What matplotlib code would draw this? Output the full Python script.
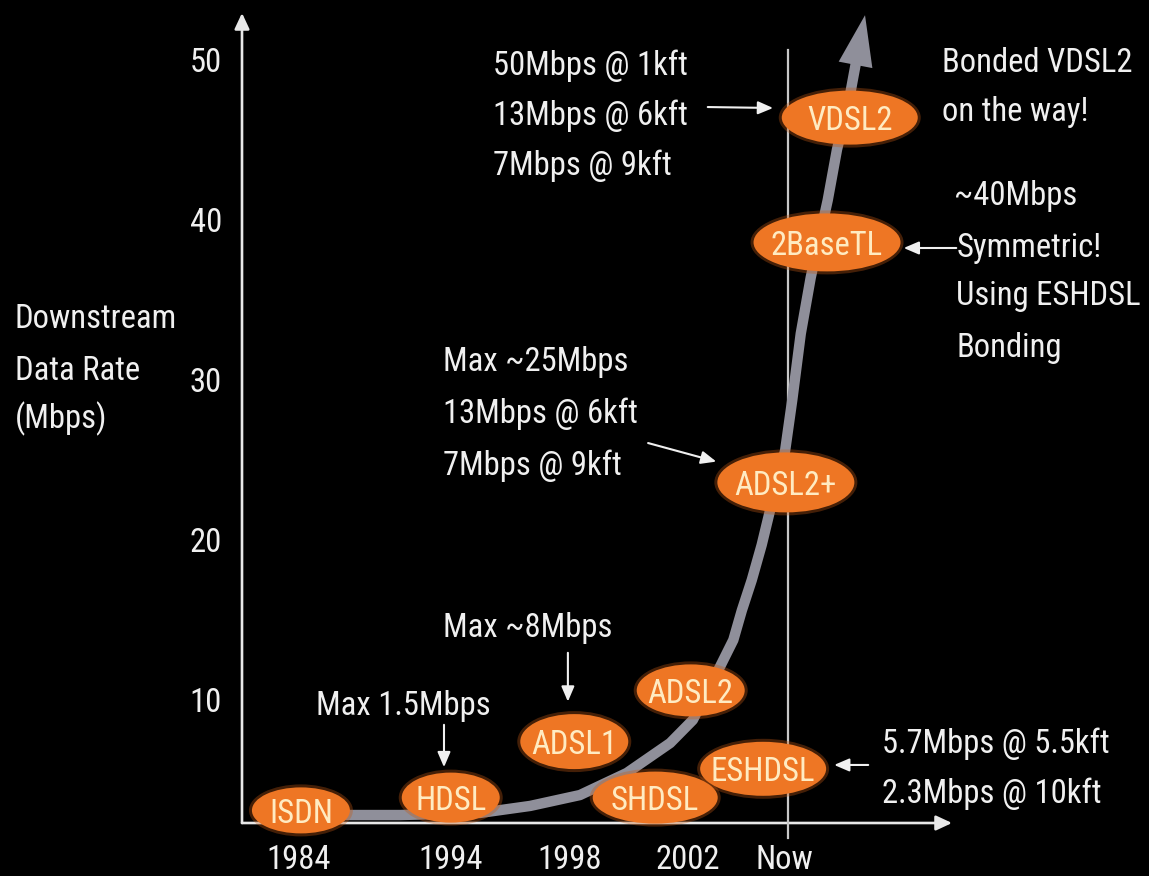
import matplotlib
matplotlib.use("Agg")
import matplotlib.pyplot as plt
from matplotlib.patches import Ellipse
from matplotlib import font_manager

# ---------------------------------------------------------------- data
era_labels = ["1984", "1994", "1998", "2002", "Now"]
era_pos = [8.0, 29.4, 46.1, 62.8, 76.4]
rate_ticks = [10, 20, 30, 40, 50]

technologies = ["ISDN", "HDSL", "ADSL1", "SHDSL", "ADSL2", "ESHDSL",
                "ADSL2+", "2BaseTL", "VDSL2"]
tech_pos = [8.3, 29.4, 46.8, 58.2, 63.2, 73.4, 76.6, 82.4, 85.6]
tech_rate = [3.1, 3.9, 7.4, 3.9, 10.6, 5.7, 23.6, 38.6, 46.4]

# growth trend drawn behind the technologies
trend_pos = [8.3, 22.3, 33.5, 40.6, 47.6, 54.2, 60.3, 63.5, 67.3, 69.2,
             70.4, 71.8, 73.2, 74.4, 76.5, 77.5, 78.7, 80.1, 82.5, 83.8,
             85.5, 86.5]
trend_rate = [2.81, 2.81, 2.94, 3.38, 4.06, 5.44, 7.31, 8.75, 12.06, 13.75,
              15.6, 17.5, 19.7, 21.9, 25.6, 28.75, 32.9, 36.4, 41.25, 44.4,
              47.5, 49.9]
trend_tip = (87.75, 52.8)

now_pos = 76.9

# ---------------------------------------------------------------- style
available = {f.name for f in font_manager.fontManager.ttflist}
FONT = next((n for n in ["Liberation Sans Narrow", "Arial Narrow",
                         "Roboto Condensed"] if n in available), None)
if FONT is None:
    FONT = "Liberation Sans"
    TXT, LBL = 20, 19.5
else:
    TXT, LBL = 23.5, 23.5

plt.rcParams["font.family"] = [FONT, "DejaVu Sans"]

BG = "black"
FG = "#f0f0f0"
ORANGE = "#ee7624"
GLOW = "#c45a16"
CHIP_TEXT = "#ffebc2"
TREND = "#8f8f9a"
NOWLINE = "#c8c8c8"

W, H, DPI = 1149, 876, 100
fig = plt.figure(figsize=(W / DPI, H / DPI), dpi=DPI, facecolor=BG)
ax = fig.add_axes([242 / W, (H - 823) / H, 710 / W, 810 / H])
ax.set_facecolor("none")
ax.set_xlim(0, 100)
ax.set_ylim(2.3125, 52.9375)
for s in ax.spines.values():
    s.set_visible(False)

px_x = 710 / 100.0
px_y = 810 / (52.9375 - 2.3125)

# ticks
ax.set_yticks(rate_ticks)
ax.set_yticklabels([str(t) for t in rate_ticks])
ax.set_xticks(era_pos)
ax.set_xticklabels(era_labels)
ax.tick_params(axis="y", length=0, pad=14.5, labelsize=TXT, labelcolor=FG)
ax.tick_params(axis="x", length=0, pad=15, labelsize=TXT, labelcolor=FG)

# axis lines with arrow heads
axis_arrow = dict(arrowstyle="-|>,head_length=0.6,head_width=0.28",
                  color="#e8e8e8", lw=1.9, mutation_scale=16,
                  shrinkA=0, shrinkB=0)
ax.annotate("", xy=(0, 1), xytext=(0, 0), xycoords="axes fraction",
            textcoords="axes fraction", arrowprops=axis_arrow, zorder=2)
ax.annotate("", xy=(1, 0), xytext=(0, 0), xycoords="axes fraction",
            textcoords="axes fraction", arrowprops=axis_arrow, zorder=2)

# "Now" marker line
ax.plot([now_pos, now_pos], [1.375, 50.6], color=NOWLINE, lw=1.6,
        clip_on=False, zorder=2)

# trend curve and its arrow head
ax.plot(trend_pos, trend_rate, color=TREND, lw=7.5, solid_capstyle="butt",
        solid_joinstyle="round", clip_on=False, zorder=3)
ax.annotate("", xy=trend_tip, xytext=(trend_pos[-1], trend_rate[-1]),
            arrowprops=dict(arrowstyle="-|>,head_length=2.8,head_width=0.95",
                            color=TREND, lw=0, mutation_scale=13,
                            shrinkA=0, shrinkB=0),
            annotation_clip=False, zorder=3)

# technology chips
chip_px = {"ISDN": (98, 46), "HDSL": (98, 50), "ADSL1": (108, 55),
           "SHDSL": (125, 52), "ADSL2": (108, 52), "ESHDSL": (126, 54),
           "ADSL2+": (137, 60), "2BaseTL": (147, 58), "VDSL2": (136, 54)}
for name, x, y in zip(technologies, tech_pos, tech_rate):
    wpx, hpx = chip_px[name]
    ax.add_patch(Ellipse((x, y), (wpx + 6) / px_x, (hpx + 6) / px_y,
                         facecolor=GLOW, edgecolor="none", alpha=0.35,
                         clip_on=False, zorder=4))
    ax.add_patch(Ellipse((x, y), wpx / px_x, hpx / px_y,
                         facecolor=ORANGE, edgecolor="none",
                         clip_on=False, zorder=5))
    ax.text(x, y, name, color=CHIP_TEXT, fontsize=LBL, ha="center",
            va="center_baseline", zorder=6, clip_on=False)

# annotations
def note(x, y, s, ha="left"):
    ax.text(x, y, s, color=FG, fontsize=TXT, ha=ha, va="center_baseline",
            clip_on=False, zorder=6)

def pointer(x0, y0, x1, y1):
    ax.annotate("", xy=(x1, y1), xytext=(x0, y0),
                arrowprops=dict(arrowstyle="-|>,head_length=0.7,head_width=0.3",
                                color=FG, lw=1.5, mutation_scale=13,
                                shrinkA=0, shrinkB=0),
                annotation_clip=False, zorder=6)

# y-axis title
for s, y in zip(["Downstream", "Data Rate", "(Mbps)"], [34.06, 30.81, 27.81]):
    note(-32.0, y, s)

note(22.7, 9.875, "Max 1.5Mbps", ha="center")
pointer(28.45, 8.45, 28.45, 5.8)

note(40.3, 14.69, "Max ~8Mbps", ha="center")
pointer(45.9, 12.95, 45.9, 9.9)

for s, y in zip(["Max ~25Mbps", "13Mbps @ 6kft", "7Mbps @ 9kft"],
                [31.375, 28.125, 24.875]):
    note(28.3, y, s)
pointer(57.2, 26.06, 66.8, 24.9)

for s, y in zip(["50Mbps @ 1kft", "13Mbps @ 6kft", "7Mbps @ 9kft"],
                [49.875, 46.75, 43.625]):
    note(35.35, y, s)
pointer(65.6, 47.06, 74.8, 47.0)

for s, y in zip(["Bonded VDSL2", "on the way!"], [50.0, 47.0]):
    note(98.6, y, s)

note(100.3, 41.69, "~40Mbps")
for s, y in zip(["Symmetric!", "Using ESHDSL", "Bonding"],
                [38.44, 35.5, 32.19]):
    note(100.6, y, s)
pointer(100.6, 38.25, 93.2, 38.25)

for s, y in zip(["5.7Mbps @ 5.5kft", "2.3Mbps @ 10kft"], [7.5, 4.375]):
    note(90.1, y, s)
pointer(88.2, 5.94, 83.4, 5.94)

fig.savefig("out.png", dpi=DPI, facecolor=BG)
